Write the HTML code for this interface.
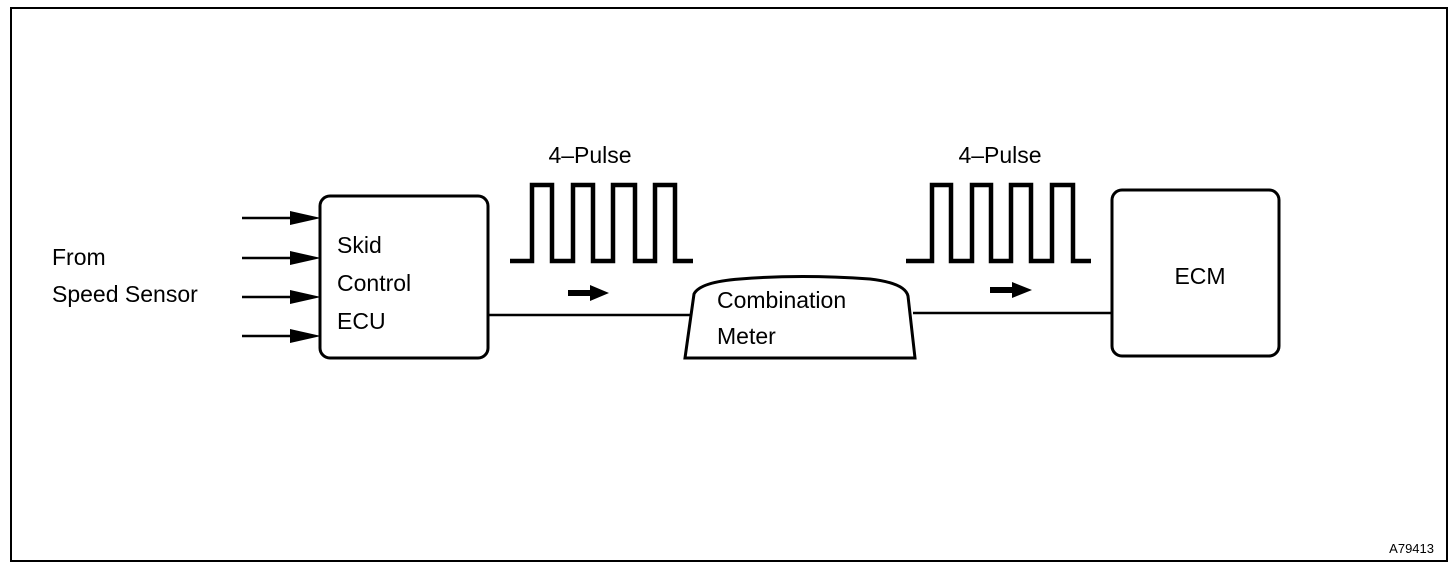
<!DOCTYPE html>
<html><head><style>
html,body{margin:0;padding:0;background:#fff;}
svg{display:block;}
text{font-family:"Liberation Sans",Arial,sans-serif;fill:#000;}
</style></head><body>
<svg width="1456" height="572" viewBox="0 0 1456 572" xmlns="http://www.w3.org/2000/svg">
<rect x="11" y="8" width="1436" height="553" fill="none" stroke="#000" stroke-width="2"/>
<!-- input arrows -->
<g stroke="#000" stroke-width="2.5">
<line x1="242" y1="218" x2="300" y2="218"/>
<line x1="242" y1="258" x2="300" y2="258"/>
<line x1="242" y1="297" x2="300" y2="297"/>
<line x1="242" y1="336" x2="300" y2="336"/>
</g>
<g fill="#000">
<polygon points="290,211 321,218 290,225"/>
<polygon points="290,251 321,258 290,265"/>
<polygon points="290,290 321,297 290,304"/>
<polygon points="290,329 321,336 290,343"/>
</g>
<rect x="320" y="196" width="168" height="162" rx="10" fill="none" stroke="#000" stroke-width="3"/>
<text x="337" y="253" font-size="23">Skid</text>
<text x="337" y="291" font-size="23">Control</text>
<text x="337" y="329" font-size="23">ECU</text>
<text x="52" y="265" font-size="23">From</text>
<text x="52" y="302" font-size="23">Speed Sensor</text>
<!-- lines -->
<line x1="488" y1="315" x2="692" y2="315" stroke="#000" stroke-width="2.5"/>
<line x1="913" y1="313" x2="1113" y2="313" stroke="#000" stroke-width="2.5"/>
<!-- pulses -->
<polyline points="510,261 532,261 532,185 552,185 552,261 573,261 573,185 593,185 593,261 613,261 613,185 635,185 635,261 655,261 655,185 675,185 675,261 693,261" fill="none" stroke="#000" stroke-width="4.5"/>
<polyline points="906,261 932,261 932,185 951,185 951,261 972,261 972,185 991,185 991,261 1011,261 1011,185 1031,185 1031,261 1052,261 1052,185 1073,185 1073,261 1091,261" fill="none" stroke="#000" stroke-width="4.5"/>
<text x="590" y="163" font-size="23" text-anchor="middle">4–Pulse</text>
<text x="1000" y="163" font-size="23" text-anchor="middle">4–Pulse</text>
<!-- small arrows -->
<rect x="568" y="290" width="24" height="6" fill="#000"/>
<polygon points="590,285 609,293 590,301" fill="#000"/>
<rect x="990" y="287" width="24" height="6" fill="#000"/>
<polygon points="1012,282 1032,290 1012,298" fill="#000"/>
<!-- combination meter -->
<path d="M685,358 L694,294 Q700,282 740,279 Q800,274 870,279 Q905,283 908,296 L915,358 Z" fill="#fff" stroke="#000" stroke-width="3"/>
<text x="717" y="308" font-size="23">Combination</text>
<text x="717" y="344" font-size="23">Meter</text>
<!-- ECM -->
<rect x="1112" y="190" width="167" height="166" rx="10" fill="none" stroke="#000" stroke-width="3"/>
<text x="1200" y="284" font-size="23" text-anchor="middle">ECM</text>
<text x="1434" y="553" font-size="13" text-anchor="end">A79413</text>
</svg>
</body></html>
